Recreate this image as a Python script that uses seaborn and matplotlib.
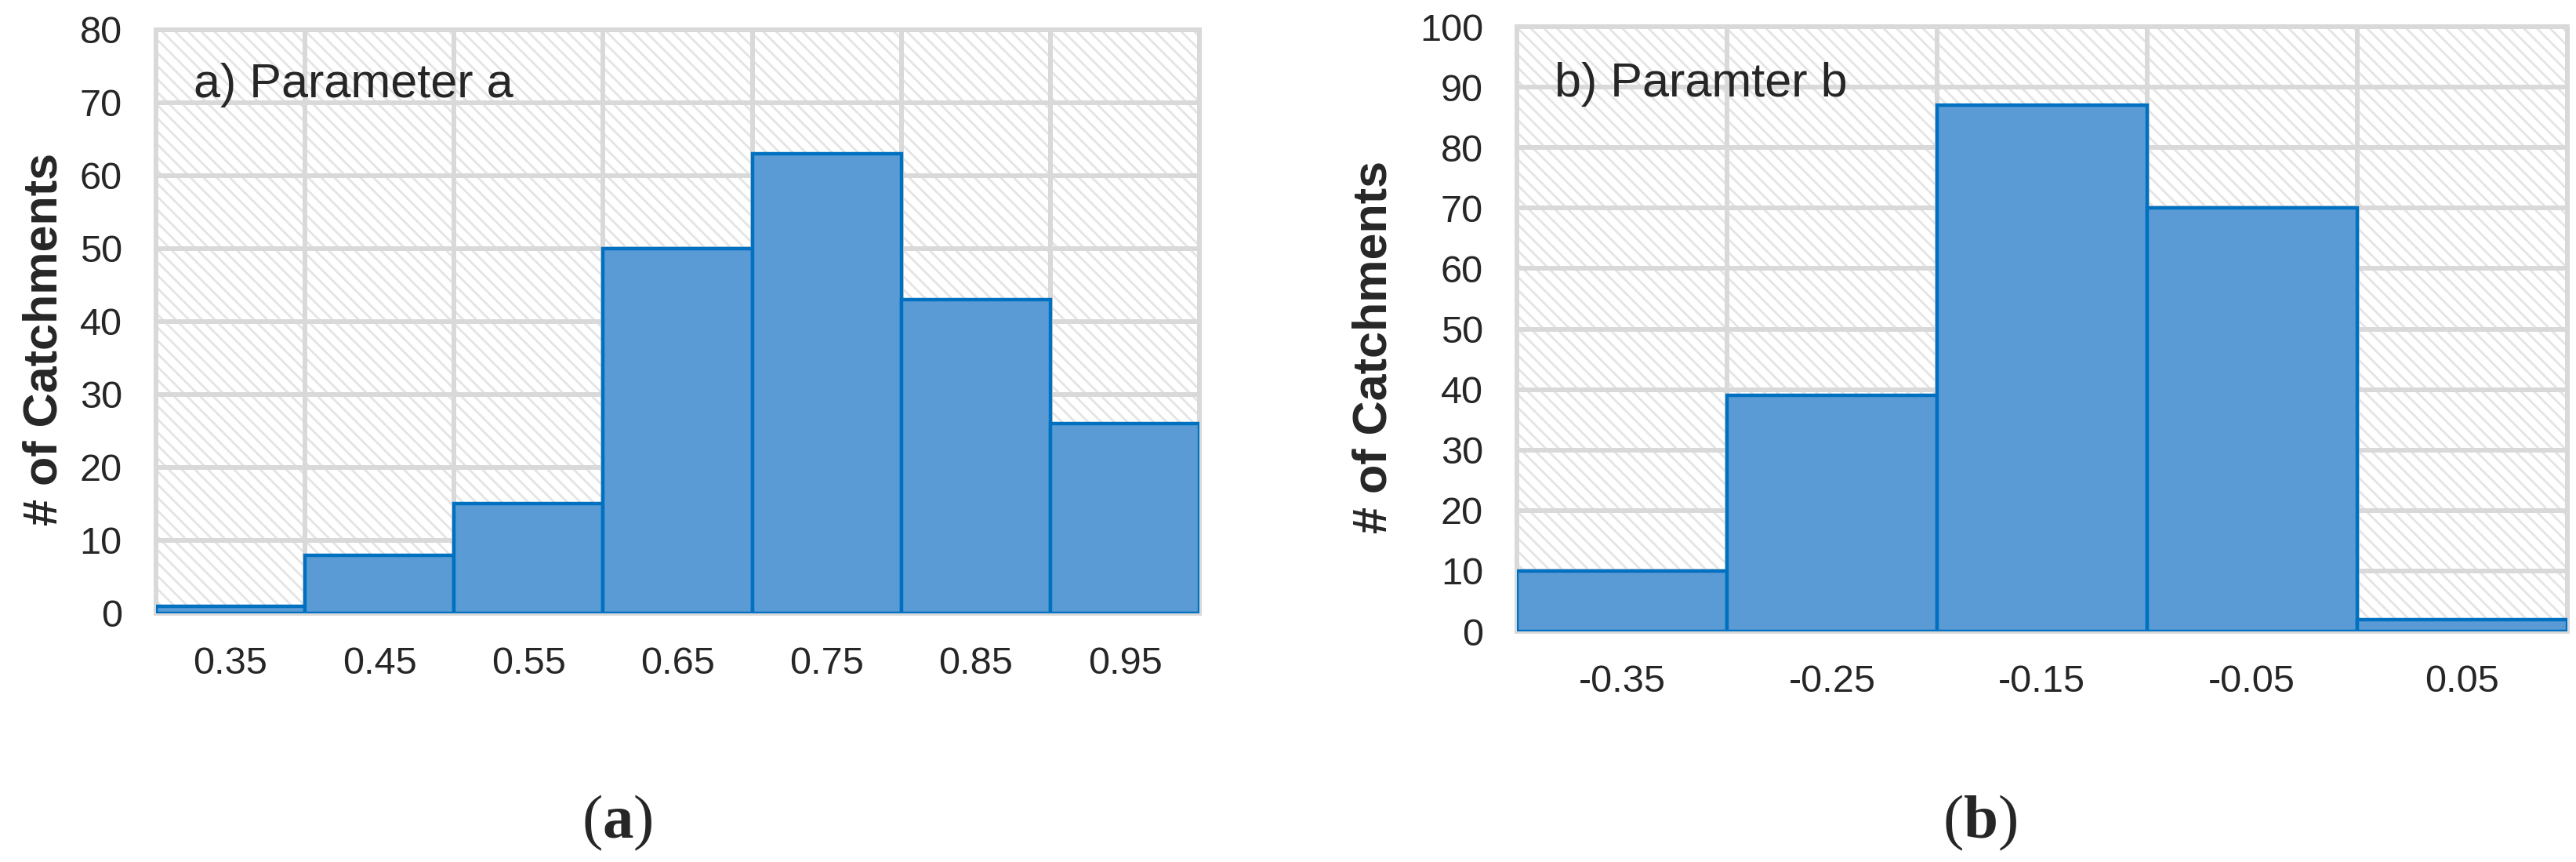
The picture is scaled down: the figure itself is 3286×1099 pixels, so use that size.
import numpy as np
import matplotlib
matplotlib.use("Agg")
import matplotlib.pyplot as plt
import seaborn as sns

# histogram bins and counts
edges_a = [0.3, 0.4, 0.5, 0.6, 0.7, 0.8, 0.9, 1.0]
centers_a = [0.35, 0.45, 0.55, 0.65, 0.75, 0.85, 0.95]
counts_a = [1, 8, 15, 50, 63, 43, 26]
labels_a = ["0.35", "0.45", "0.55", "0.65", "0.75", "0.85", "0.95"]

edges_b = [-0.4, -0.3, -0.2, -0.1, 0.0, 0.1]
centers_b = [-0.35, -0.25, -0.15, -0.05, 0.05]
counts_b = [10, 39, 87, 70, 2]
labels_b = ["-0.35", "-0.25", "-0.15", "-0.05", "0.05"]

sns.set_style("white")
plt.rcParams["font.family"] = ["Liberation Sans", "DejaVu Sans"]
plt.rcParams["hatch.linewidth"] = 2.0
plt.rcParams["mathtext.fontset"] = "custom"
plt.rcParams["mathtext.rm"] = "Liberation Serif"
plt.rcParams["mathtext.bf"] = "Liberation Serif:bold"

fill = "#5b9bd5"
edge = "#0070c0"
grid = "#d9d9d9"
hatch_col = "#e4e4e4"

fig = plt.figure(figsize=(32.87, 10.99), dpi=100)
ax1 = fig.add_axes([0.0605, 0.2885, 0.4050, 0.6770])
ax2 = fig.add_axes([0.5887, 0.2675, 0.4075, 0.7015])


def draw(ax, centers, counts, edges, labels, ymax, title, ylab_x):
    sns.histplot(x=centers, weights=counts, bins=edges, ax=ax,
                 color=fill, edgecolor=edge, linewidth=3.2, alpha=1,
                 zorder=3)
    ax.set_xlim(edges[0], edges[-1])
    ax.set_ylim(0, ymax)
    ax.set_xticks(centers)
    ax.set_xticklabels(labels)
    ax.set_xticks(edges, minor=True)
    ax.set_yticks(np.arange(0, ymax + 1, 10))
    ax.tick_params(axis="both", which="both", length=0, labelsize=35)
    ax.tick_params(axis="x", pad=30)
    ax.tick_params(axis="y", pad=31)
    ax.grid(False)
    ax.grid(True, axis="y", which="major", color=grid, lw=4.3, zorder=1)
    ax.grid(True, axis="x", which="minor", color=grid, lw=4.3, zorder=1)
    ax.set_axisbelow(True)
    # light diagonal pattern fill of the plot area
    ax.patch.set_facecolor("white")
    ax.patch.set_edgecolor(hatch_col)
    ax.patch.set_linewidth(0)
    ax.patch.set_hatch("\\\\")
    for s in ax.spines.values():
        s.set_color(grid)
        s.set_linewidth(4.3)
    ax.set_ylabel("# of Catchments", fontsize=44, fontweight="bold")
    ax.yaxis.set_label_coords(ylab_x, 0.47)
    ax.text(0.036, 0.905, title, transform=ax.transAxes, fontsize=44,
            ha="left", va="center", zorder=5)


draw(ax1, centers_a, counts_a, edges_a, labels_a, 80, "a) Parameter a", -0.085)
draw(ax2, centers_b, counts_b, edges_b, labels_b, 100, "b) Paramter b", -0.115)

fig.text(0.2395, 0.045, r"($\mathbf{a}$)", fontsize=57, ha="center",
         va="center", family="Liberation Serif")
fig.text(0.7685, 0.045, r"($\mathbf{b}$)", fontsize=57, ha="center",
         va="center", family="Liberation Serif")

fig.savefig("out.png", dpi=100)
